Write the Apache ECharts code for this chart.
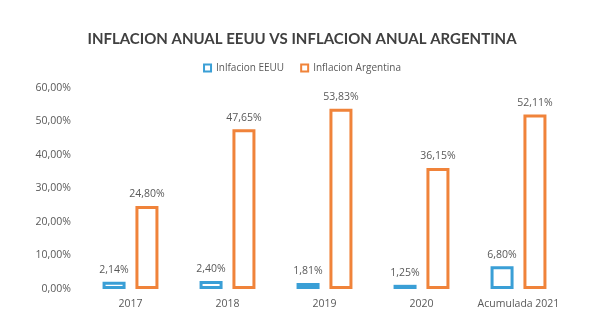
<!DOCTYPE html>
<html><head><meta charset="utf-8">
<script src="https://cdn.jsdelivr.net/npm/echarts@6/dist/echarts.min.js"></script>
<style>html,body{margin:0;padding:0;background:#fff}#c{width:604px;height:336px}</style>
</head><body><div id="c"></div>
<script>
const categories = ['2017','2018','2019','2020','Acumulada 2021'];
const eeuu = [2.14, 2.40, 1.81, 1.25, 6.80];
const argentina = [24.80, 47.65, 53.83, 36.15, 52.11];
const yTicks = [0, 10, 20, 30, 40, 50, 60];

const fmt = v => v.toFixed(2).replace('.', ',') + '%';
const chart = echarts.init(document.getElementById('c'));
const lbl = {show:true, position:'top', distance:6, color:'#595959', fontSize:10.5, fontFamily:'Open Sans', formatter:p=>fmt(p.value)};
chart.setOption({
  animation:false,
  title:{text:'INFLACION ANUAL EEUU VS INFLACION ANUAL ARGENTINA', left:'center', top:27,
    textStyle:{fontFamily:'Lato', fontWeight:'bold', fontSize:15, color:'#404040'}},
  legend:{top:58, left:'center', itemWidth:7, itemHeight:7, itemGap:16,
    textStyle:{color:'#595959', fontSize:10, fontFamily:'Open Sans'},
    data:[{name:'Inlfacion EEUU', icon:'rect'},{name:'Inflacion Argentina', icon:'rect'}]},
  grid:{left:82, right:37, top:88, bottom:47},
  xAxis:{type:'category', data:categories, axisLine:{show:false}, axisTick:{show:false},
    axisLabel:{interval:0, color:'#595959', fontSize:10.5, fontFamily:'Open Sans', margin:10}},
  yAxis:{type:'value', min:yTicks[0], max:yTicks[yTicks.length-1], interval:10,
    splitLine:{show:false}, axisLine:{show:false}, axisTick:{show:false},
    axisLabel:{color:'#595959', fontSize:10.5, fontFamily:'Open Sans', margin:11, formatter:v=>fmt(v)}},
  series:[
    {name:'Inlfacion EEUU', type:'bar', data:eeuu, barWidth:23, barGap:'43%',
     itemStyle:{color:'#ffffff', borderColor:'#3a9fd6', borderWidth:3}, label:lbl},
    {name:'Inflacion Argentina', type:'bar', data:argentina, barWidth:23,
     itemStyle:{color:'#ffffff', borderColor:'#f0833a', borderWidth:3}, label:lbl}
  ]
});
</script></body></html>
